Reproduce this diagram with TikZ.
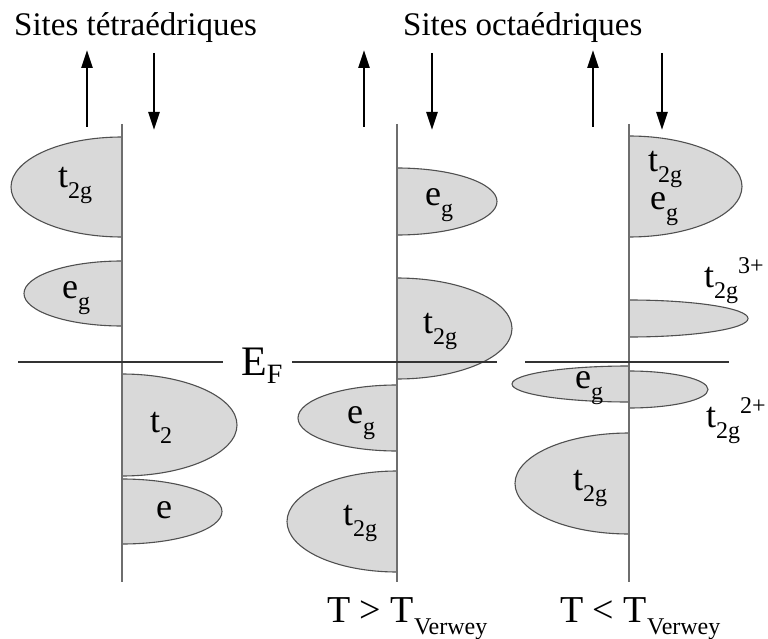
\documentclass[tikz,border=0pt]{standalone}
\usepackage{fontspec}
\setmainfont{Liberation Serif}
\usetikzlibrary{arrows.meta}
\definecolor{bandfill}{HTML}{D9D9D9}
\definecolor{bandline}{HTML}{505050}
\definecolor{axisline}{HTML}{6E6E6E}
\newcommand{\bsub}[1]{\raisebox{-11pt}{\fontsize{24}{24}\selectfont #1}}
\newcommand{\bsup}[1]{\raisebox{14pt}{\fontsize{24}{24}\selectfont #1}}
\newcommand{\blbl}[1]{\fontsize{36}{36}\selectfont #1}
\begin{document}
\begin{tikzpicture}[x=1pt,y=1pt,
  band/.style={fill=bandfill,draw=bandline,line width=1.1pt},
  axisln/.style={draw=axisline,line width=1.4pt},
  efline/.style={draw=black!80,line width=1.1pt},
  spinarrow/.style={line width=2.4pt,-{Triangle[length=18pt,width=11pt]}},
  lbl/.style={anchor=base west,inner sep=0pt,font=\blbl},
  title/.style={anchor=base west,inner sep=0pt,font=\fontsize{33}{33}\selectfont}]
\useasboundingbox (0,0) rectangle (768,-639);
% ---- bands: right side (ax,top) arc 90 -> -90 ; left side 90 -> 270
% left panel, axis x=122
\draw[band] (122,-137) arc[start angle=90,end angle=270,x radius=111,y radius=50] -- cycle;
\draw[band] (122,-261) arc[start angle=90,end angle=270,x radius=98,y radius=32.5] -- cycle;
\draw[band] (122,-374) arc[start angle=90,end angle=-90,x radius=115,y radius=51] -- cycle;
\draw[band] (122,-479) arc[start angle=90,end angle=-90,x radius=100,y radius=32.5] -- cycle;
% middle panel, axis x=397
\draw[band] (397,-168) arc[start angle=90,end angle=-90,x radius=100,y radius=33.5] -- cycle;
\draw[band] (397,-278) arc[start angle=90,end angle=-90,x radius=115,y radius=50.5] -- cycle;
\draw[band] (397,-385) arc[start angle=90,end angle=270,x radius=99,y radius=33] -- cycle;
\draw[band] (397,-471) arc[start angle=90,end angle=270,x radius=110,y radius=50.5] -- cycle;
% right panel, axis x=629
\draw[band] (629,-136) arc[start angle=90,end angle=-90,x radius=113,y radius=50.5] -- cycle;
\draw[band] (629,-300) arc[start angle=90,end angle=-90,x radius=119,y radius=18.5] -- cycle;
\draw[band] (629,-366) arc[start angle=90,end angle=270,x radius=117,y radius=18] -- cycle;
\draw[band] (629,-371) arc[start angle=90,end angle=-90,x radius=79,y radius=18.5] -- cycle;
\draw[band] (629,-433) arc[start angle=90,end angle=270,x radius=114,y radius=50.5] -- cycle;
% ---- axes
\coordinate (axLt) at (122,-124); \coordinate (axLb) at (122,-582);
\coordinate (axMt) at (397,-124); \coordinate (axMb) at (397,-582);
\coordinate (axRt) at (629,-124); \coordinate (axRb) at (629,-582);
\draw[axisln] (axLt) -- (axLb);
\draw[axisln] (axMt) -- (axMb);
\draw[axisln] (axRt) -- (axRb);
% ---- Fermi level
\node[anchor=base west,inner sep=0pt,font=\fontsize{42}{42}\selectfont] (EF) at (241,-375)
  {E\raisebox{-8pt}{\fontsize{28}{28}\selectfont F}};
\coordinate (ef1a) at (18,-362); \coordinate (ef1b) at (223,-362);
\coordinate (ef2a) at (292,-362); \coordinate (ef2b) at (497,-362);
\coordinate (ef3a) at (525,-362); \coordinate (ef3b) at (729,-362);
\draw[efline] (ef1a) -- (ef1b);
\draw[efline] (ef2a) -- (ef2b);
\draw[efline] (ef3a) -- (ef3b);
% ---- spin arrows
\coordinate (u1a) at (87,-127);  \coordinate (u1b) at (87,-50);
\coordinate (d1a) at (154,-53);  \coordinate (d1b) at (154,-130);
\coordinate (u2a) at (364,-127); \coordinate (u2b) at (364,-50);
\coordinate (d2a) at (432,-53);  \coordinate (d2b) at (432,-130);
\coordinate (u3a) at (593,-127); \coordinate (u3b) at (593,-50);
\coordinate (d3a) at (662,-53);  \coordinate (d3b) at (662,-130);
\draw[spinarrow] (u1a) -- (u1b);
\draw[spinarrow] (d1a) -- (d1b);
\draw[spinarrow] (u2a) -- (u2b);
\draw[spinarrow] (d2a) -- (d2b);
\draw[spinarrow] (u3a) -- (u3b);
\draw[spinarrow] (d3a) -- (d3b);
% ---- titles
\node[title] (tt) at (14,-36) {Sites tétraédriques};
\node[title] (to) at (403,-36) {Sites octaédriques};
% ---- band labels
\node[lbl] (l1) at (58,-188) {t\bsub{2g}};
\node[lbl] (l2) at (62,-298) {e\bsub{g}};
\node[lbl] (l3) at (150,-432) {t\bsub{2}};
\node[lbl] (l4) at (156,-518) {e};
\node[lbl] (l5) at (425,-206) {e\bsub{g}};
\node[lbl] (l6) at (423,-333) {t\bsub{2g}};
\node[lbl] (l7) at (347,-423) {e\bsub{g}};
\node[lbl] (l8) at (343,-525) {t\bsub{2g}};
\node[lbl] (l9) at (648,-172) {t\bsub{2g}};
\node[lbl] (l10) at (650,-210) {e\bsub{g}};
\node[lbl] (l11) at (704,-287) {t\bsub{2g}\bsup{3+}};
\node[lbl] (l12) at (575,-388) {e\bsub{g}};
\node[lbl] (l13) at (706,-427) {t\bsub{2g}\bsup{2+}};
\node[lbl] (l14) at (573,-490) {t\bsub{2g}};
% ---- temperature labels
\node[anchor=base west,inner sep=0pt,font=\fontsize{38}{38}\selectfont] (tg) at (327,-622)
  {T > T\raisebox{-12pt}{\fontsize{24}{24}\selectfont Verwey}};
\node[anchor=base west,inner sep=0pt,font=\fontsize{38}{38}\selectfont] (tl) at (560,-622)
  {T < T\raisebox{-12pt}{\fontsize{24}{24}\selectfont Verwey}};
\end{tikzpicture}
\end{document}
